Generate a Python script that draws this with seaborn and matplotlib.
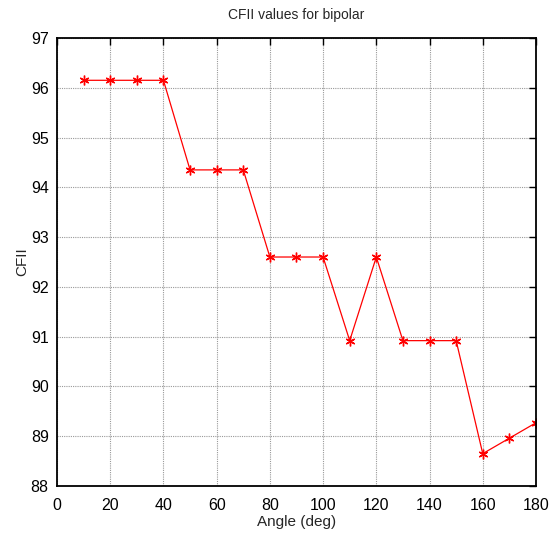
import pandas as pd
import matplotlib.pyplot as plt
import seaborn as sns

# values
angle = [10, 20, 30, 40, 50, 60, 70, 80, 90, 100, 110, 120, 130, 140, 150, 160, 170, 180]
cfii = [96.15, 96.15, 96.15, 96.15, 94.35, 94.35, 94.35, 92.6, 92.6, 92.6,
        90.92, 92.6, 90.92, 90.92, 90.92, 88.65, 88.96, 89.27]
xticks = list(range(0, 181, 20))
yticks = list(range(88, 98))

df = pd.DataFrame({'angle': angle, 'cfii': cfii})

sns.set_style('white')
plt.rcParams['font.family'] = ['Liberation Sans', 'DejaVu Sans']

fig = plt.figure(figsize=(5.55, 5.35), dpi=100)
ax = fig.add_axes([0.1027, 0.0916, 0.863, 0.8374])

sns.lineplot(x='angle', y='cfii', data=df, ax=ax, color='red', linewidth=0.9,
             marker=(6, 2, 0), markersize=7, markeredgecolor='red', markeredgewidth=1.0)

ax.set_xlim(0, 180)
ax.set_ylim(88, 97)
ax.set_xticks(xticks)
ax.set_yticks(yticks)
ax.grid(True, color='#999999', linestyle=(0, (1, 1)), linewidth=0.8)
ax.tick_params(direction='in', length=5, width=1, top=True, right=True,
               labelsize=11.5, colors='black')
ax.tick_params(axis='x', pad=9)
ax.tick_params(axis='y', pad=6)
for s in ax.spines.values():
    s.set_color('black')
    s.set_linewidth(1.3)

ax.set_xlabel('Angle (deg)', fontsize=11, labelpad=1)
ax.set_ylabel('CFII', fontsize=11, labelpad=1)
ax.set_title('CFII values for bipolar', fontsize=10, pad=14)

fig.savefig('out.png', dpi=100)
plt.close()
